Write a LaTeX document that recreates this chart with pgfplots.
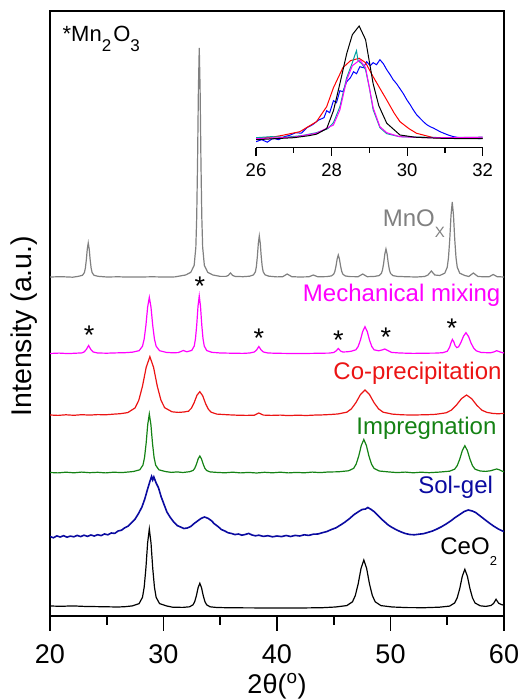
\documentclass[border=0pt]{standalone}
\usepackage{fontspec}
\setmainfont{Liberation Sans}
\usepackage{pgfplots}
\pgfplotsset{compat=1.18}
\definecolor{cgray}{RGB}{128,128,128}
\definecolor{cmag}{RGB}{255,0,255}
\definecolor{cred}{RGB}{235,20,20}
\definecolor{cgreen}{RGB}{20,130,20}
\definecolor{cblue}{RGB}{10,10,160}
\definecolor{iblue}{RGB}{0,0,255}
\definecolor{ired}{RGB}{255,0,0}
\definecolor{iteal}{RGB}{0,160,160}
\newcommand{\lsub}[3]{\raisebox{-#2}{\fontsize{#1}{#1}\selectfont #3}}
\begin{document}
\begin{tikzpicture}
\useasboundingbox (0,0) rectangle (523pt,700pt);
\begin{axis}[
  at={(50pt,84pt)}, anchor=south west,
  width=454pt, height=605pt, scale only axis,
  xmin=20, xmax=60, ymin=0, ymax=605,
  xtick={20,30,40,50,60}, minor xtick={25,35,45,55},
  ytick=\empty,
  xtick pos=bottom, tick align=outside,
  major tick length=15pt, minor tick length=9pt,
  every tick/.style={black, line width=1.6pt},
  axis line style={line width=1.8pt},
  /pgf/number format/assume math mode=true,
  tick label style={font=\fontsize{27}{30}\selectfont},
  xticklabel style={anchor=base, yshift=-32pt},
  xlabel={2θ(\textsuperscript{o})},
  ylabel={Intensity (a.u.)},
  xlabel style={font=\fontsize{27}{30}\selectfont, at={(axis description cs:0.5,-0.1273)}, anchor=base},
  ylabel style={font=\fontsize{28.5}{30}\selectfont, at={(axis description cs:-0.0403,0.479)}, anchor=base},
  every axis plot/.append style={line width=1.2pt},
]
% CeO2
\addplot[black] coordinates {(20,10) (21,9.7) (22,10.1) (23,9.6) (24,9.4) (25,9.2) (26,9.0) (26.6,9.3) (27.25,10.1) (27.85,12.4) (28.15,18.7) (28.3,29) (28.45,47.9) (28.6,73) (28.75,87) (28.9,73) (29.05,47.9) (29.2,29) (29.35,18.7) (29.65,12.4) (30.25,10.1) (30.8,8.8) (31.7,8.6) (32.3,9.2) (32.6,11.2) (32.75,14.4) (32.9,20.4) (33.05,28.3) (33.2,32.7) (33.35,28.3) (33.5,20.4) (33.65,14.4) (33.8,11.2) (34.1,9.2) (34.7,8.5) (36,8.2) (38,8.1) (40,7.9) (42,8) (44,8.3) (45.15,9) (46.15,10.4) (46.65,14.2) (46.9,20.5) (47.15,32) (47.4,47.4) (47.65,56) (47.9,47.4) (48.15,32) (48.4,20.5) (48.65,14.2) (49.15,10.4) (50.15,9) (51.5,8.4) (53,8.3) (54.3,8.8) (55.2,9.9) (55.65,13) (55.875,18.1) (56.1,27.4) (56.325,39.7) (56.55,46.7) (56.775,39.7) (57,27.4) (57.225,18.1) (57.45,13) (57.9,10.2) (58.4,9.6) (58.85,10.5) (59.075,12.5) (59.3,16.7) (59.525,12.8) (59.75,11.5) (60,10.8)};
% Sol-gel
\addplot[cblue, line width=1.6pt] coordinates {(20,79.5) (20.3,78.2) (20.6,80.1) (20.9,79) (21.2,80.3) (21.5,78.8) (21.8,79.9) (22.1,79.2) (22.4,80.6) (22.7,79.4) (23.0,80.8) (23.3,79.6) (23.6,81) (23.9,80) (24.2,81.3) (24.5,80.4) (24.8,82) (25.1,81.2) (25.4,83) (25.7,82.6) (26.0,85) (26.3,85.8) (26.6,88.3) (26.9,90) (27.2,93.5) (27.5,97) (27.8,102.5) (28.1,109) (28.35,117) (28.6,127) (28.8,134.5) (28.95,139.5) (29.05,136) (29.15,139) (29.35,133) (29.55,128.5) (29.8,119) (30.05,111.5) (30.3,104) (30.6,98.5) (30.9,94) (31.2,90.5) (31.5,89) (31.8,87.5) (32.1,88) (32.4,89.5) (32.7,92.5) (33.0,95) (33.3,97.5) (33.6,99) (33.9,97.8) (34.2,95.5) (34.5,92) (34.8,89.5) (35.1,86.5) (35.4,85) (35.7,83.2) (36.0,82.5) (36.3,81.4) (36.6,82) (36.9,80.8) (37.2,81.5) (37.5,82.6) (37.8,81) (38.1,80.2) (38.4,80.8) (38.8,79.6) (39.2,80.3) (39.6,79.2) (40.0,80) (40.4,79.4) (40.8,80.5) (41.2,79.5) (41.6,80.6) (42.0,80) (42.4,81.2) (42.8,80.6) (43.2,81.8) (43.6,82) (44.0,83.3) (44.4,84.5) (44.8,86.5) (45.2,88.2) (45.6,91) (46.0,94) (46.4,97.5) (46.8,101.5) (47.2,104.5) (47.5,106.5) (47.8,107) (48.0,108.5) (48.3,106.5) (48.6,104) (48.9,100.5) (49.2,97) (49.5,94) (49.8,91) (50.1,88.8) (50.5,86.3) (50.9,84.2) (51.3,82.5) (51.7,81.5) (52.1,81.2) (52.5,81.8) (52.9,82.3) (53.3,83.6) (53.7,85) (54.1,87) (54.5,89.3) (54.9,92) (55.3,95) (55.7,98.5) (56.1,101.5) (56.5,104.5) (56.85,106) (57.2,105) (57.5,103.5) (57.9,100) (58.3,96.5) (58.7,93) (59.1,89.8) (59.5,87) (60,84.3)};
% Impregnation
\addplot[cgreen] coordinates {(20,143.5) (20.7,143.1) (21.4,143.8) (22.1,143.2) (22.8,143.9) (23.5,143.3) (24.2,143.7) (24.9,143.1) (25.6,143.8) (26.3,143.4) (26.9,144) (27.35,144.5) (27.91,146.2) (28.19,150.9) (28.33,158.6) (28.47,172.7) (28.61,191.4) (28.75,202) (28.89,191.4) (29.03,172.7) (29.17,158.6) (29.31,150.9) (29.59,146.2) (30.15,144.5) (30.7,143.6) (31.2,144.1) (31.7,143.5) (32.3,144.3) (32.6,145.5) (32.75,147.6) (32.9,151.7) (33.05,157) (33.2,160) (33.35,157) (33.5,151.7) (33.65,147.6) (33.8,145.5) (34.1,144.1) (34.7,143.6) (35.4,143.2) (36.1,143.8) (36.8,143.1) (37.5,143.6) (38.2,143) (38.9,143.7) (39.6,143.2) (40.3,143.8) (41,143.1) (41.7,143.6) (42.4,143.2) (43.1,143.9) (43.8,143.4) (44.5,144) (45.4,144.2) (46.3,145.2) (46.75,147.6) (46.975,151.9) (47.2,159.9) (47.425,170.5) (47.65,176.5) (47.875,170.5) (48.1,159.9) (48.325,151.9) (48.55,147.6) (49,145) (49.9,144) (50.6,143.4) (51.3,143.9) (52,143.2) (52.7,143.8) (53.4,143.3) (54.3,143.9) (55.2,144.8) (55.65,146.8) (55.875,150.3) (56.1,156.8) (56.325,165.4) (56.55,170.3) (56.775,165.4) (57,156.8) (57.225,150.3) (57.45,146.8) (57.9,145) (58.4,144.6) (58.85,145.3) (59.1,146.2) (59.35,147) (59.6,146.2) (59.8,145) (60,144.2)};
% Co-precipitation
\addplot[cred] coordinates {(20,201) (20.7,200.6) (21.4,201.2) (22.1,200.7) (22.8,201.3) (23.5,200.9) (24.2,201.4) (24.9,201.2) (25.55,201.8) (26.2,202.3) (26.85,203.4) (27.5,208.1) (27.825,215.8) (28.15,229.9) (28.475,248.7) (28.8,259.3) (29.125,248.7) (29.45,229.9) (29.775,215.8) (30.1,208.3) (30.75,204.2) (31.3,203.6) (31.8,204) (32.2,204.8) (32.45,207.7) (32.7,213.3) (32.95,220.8) (33.2,224.3) (33.45,220.3) (33.7,212.6) (33.95,206.8) (34.2,203.8) (34.7,201.9) (35.7,201.2) (36.5,200.8) (37.3,200.6) (38.0,200.8) (38.4,203) (38.8,200.9) (39.5,200.6) (40.3,200.9) (41,200.4) (41.8,200.8) (42.6,200.5) (43.3,200.9) (44.0,201.1) (44.7,201.5) (45.35,202) (46.15,203.8) (46.55,207.1) (46.95,213.3) (47.35,221.4) (47.75,226) (48.15,221.4) (48.55,213.3) (48.95,207.1) (49.35,203.8) (50.15,201.9) (51,201.2) (51.75,201) (52.5,201.1) (53.3,201.3) (54,201.7) (54.9,203.2) (55.35,205.8) (55.8,210.8) (56.25,217.3) (56.7,221) (57.15,217.3) (57.6,210.8) (58.05,205.8) (58.5,203.6) (59,202.6) (59.5,202.2) (60,202.7)};
% Mechanical mixing
\addplot[cmag] coordinates {(20,262.5) (20.8,262.9) (21.6,262.4) (22.3,262.8) (22.8,263.1) (23.0,264) (23.2,266.5) (23.4,270.5) (23.6,266.5) (23.8,264) (24.2,263) (25,262.8) (25.8,263.1) (26.6,263.3) (27.25,263.8) (27.85,265.3) (28.15,269.8) (28.3,277.1) (28.45,290.6) (28.6,308.6) (28.75,318.7) (28.9,308.6) (29.05,290.6) (29.2,277.1) (29.35,269.8) (29.65,265.3) (30.25,263.6) (30.8,263.2) (31.3,263.4) (31.75,265.5) (32.05,264.2) (32.49,265.6) (32.71,270) (32.82,277.5) (32.93,291.3) (33.04,309.7) (33.15,320) (33.26,309.7) (33.37,291.3) (33.48,277.5) (33.59,270) (33.81,265.4) (34.25,263.7) (35,263) (36,262.8) (37,262.6) (37.6,263) (38,264) (38.2,266) (38.4,269.5) (38.6,266) (38.8,264) (39.2,263) (40,262.7) (41.5,262.5) (43,262.6) (44,262.8) (44.6,262.9) (45.0,263.5) (45.2,265) (45.4,267.5) (45.6,265) (45.8,264) (46.2,264.2) (46.55,264.8) (46.95,266.2) (47.15,269.5) (47.35,275.9) (47.55,284.5) (47.75,289.3) (47.95,284.5) (48.15,275.9) (48.35,269.5) (48.55,266.2) (48.95,265.2) (49.25,266) (49.5,267) (49.75,265.5) (50.1,263.6) (50.8,263) (52,262.6) (53,262.8) (54,262.9) (54.6,263.3) (55,264.7) (55.2,268.6) (55.33,273.2) (55.45,276.5) (55.57,274.4) (55.7,270.2) (55.85,268.4) (56,269.2) (56.2,273.4) (56.43,279.8) (56.65,283.3) (56.88,279.4) (57.1,272.8) (57.33,267.9) (57.55,265.2) (58,263.5) (58.8,263.2) (59.1,264) (59.35,265.3) (59.6,264.3) (59.8,263.5) (60,263)};
% MnOx
\addplot[cgray] coordinates {(20,339) (21,339.3) (22,338.8) (22.52,339.7) (22.86,340.7) (23.03,343.4) (23.115,347.8) (23.2,356) (23.285,366.9) (23.37,373) (23.455,366.9) (23.54,356) (23.625,347.8) (23.71,343.4) (23.88,340.7) (24.22,339.7) (25,339) (26,339.2) (27,338.9) (28,339) (29,339.2) (30,339) (31,339.1) (31.95,341) (32.4,343.6) (32.7,350.5) (32.85,368.8) (32.925,398.5) (33,453.5) (33.075,526.8) (33.15,568) (33.225,526.8) (33.3,453.5) (33.375,398.5) (33.45,368.8) (33.6,350.5) (33.9,343.6) (34.35,341) (35,339.6) (35.5,339.6) (35.7,340.5) (35.9,343) (36.1,340.5) (36.3,339.6) (37,339.3) (37.59,339.8) (37.93,341.1) (38.1,344.3) (38.185,349.7) (38.27,359.5) (38.355,372.6) (38.44,380) (38.525,372.6) (38.61,359.5) (38.695,349.7) (38.78,344.3) (38.95,341.1) (39.29,339.8) (40,339.1) (40.5,339.3) (40.9,342) (41.3,339.3) (42,339) (42.8,339.2) (43.2,341) (43.6,339.2) (44.4,339.4) (44.8,340.1) (45,341.9) (45.1,344.7) (45.2,350) (45.3,357) (45.4,361) (45.5,357) (45.6,350) (45.7,344.7) (45.8,341.9) (46,340.1) (46.4,339.4) (47.15,339.3) (47.55,342) (47.95,339.3) (48.6,339.6) (49,340.4) (49.2,342.6) (49.3,346.3) (49.4,353) (49.5,362) (49.6,367) (49.7,362) (49.8,353) (49.9,346.3) (50,342.6) (50.2,340.4) (50.6,339.6) (51.5,339.2) (52.3,339) (53,339.5) (53.3,341) (53.45,343) (53.6,345) (53.75,343) (53.9,341) (54.34,340.5) (54.78,342.8) (55,348.8) (55.11,358.5) (55.22,376.5) (55.33,400.5) (55.44,414) (55.55,400.5) (55.66,376.5) (55.77,358.5) (55.88,348.8) (56.1,342.8) (56.54,340.5) (56.9,339.5) (57.3,343) (57.7,339.5) (58.3,339.2) (58.7,339.3) (59.05,341.5) (59.4,339.3) (60,339)};
% labels
\begin{scope}[font=\fontsize{24}{28}\selectfont, inner sep=0pt]
\node[anchor=base east, cmag] at (axis cs:59.7,314.3) {Mechanical mixing};
\node[anchor=base east, cred] at (axis cs:59.8,236) {Co-precipitation};
\node[anchor=base east, cgreen] at (axis cs:59.35,181) {Impregnation};
\node[anchor=base east, cblue] at (axis cs:59.05,122.7) {Sol-gel};
\node[anchor=base east, black] at (axis cs:59.4,61) {CeO\lsub{13pt}{11pt}{2}};
\node[anchor=base east, cgray] at (axis cs:54.8,389) {MnO\lsub{15pt}{10.5pt}{X}};
\end{scope}
\begin{scope}[font=\fontsize{27}{28}\selectfont, inner sep=0pt]
\node[anchor=north] at (axis cs:23.44,290.5) {*};
\node[anchor=north] at (axis cs:33.2,338.8) {*};
\node[anchor=north] at (axis cs:38.4,287.2) {*};
\node[anchor=north] at (axis cs:45.4,285.5) {*};
\node[anchor=north] at (axis cs:49.6,287.8) {*};
\node[anchor=north] at (axis cs:55.4,297.2) {*};
\end{scope}
\node[anchor=base west, inner sep=0pt, font=\fontsize{22}{24}\selectfont] at (axis cs:21.1,574.3) {*Mn\lsub{17pt}{10pt}{2}\hspace{2pt}O\lsub{17pt}{10pt}{3}};
\end{axis}
% inset
\begin{axis}[
  at={(256pt,552.3pt)}, anchor=south west,
  width=226.7pt, height=130pt, scale only axis,
  xmin=26, xmax=32, ymin=0, ymax=130,
  axis x line*=bottom, hide y axis,
  xtick={26,28,30,32}, minor xtick={27,29,31},
  tick align=outside, major tick length=8pt, minor tick length=5pt,
  every tick/.style={black, line width=1.2pt},
  axis line style={line width=1.4pt},
  /pgf/number format/assume math mode=true,
  tick label style={font=\fontsize{18.5}{20}\selectfont},
  xticklabel style={anchor=base, yshift=-21pt},
  every axis plot/.append style={line width=1.0pt},
]
\addplot[iblue] coordinates {(26,6) (26.15,8) (26.3,5.5) (26.45,9.5) (26.6,8) (26.75,11) (26.9,12.5) (27.05,15) (27.2,14.5) (27.35,20) (27.5,23) (27.65,27.5) (27.8,30) (27.87,37) (27.95,35) (28.05,47) (28.13,45) (28.22,57) (28.3,56) (28.4,66) (28.5,70) (28.58,76) (28.66,74) (28.75,81) (28.84,80) (28.93,86) (29.02,82) (29.1,85) (29.19,83) (29.28,88) (29.37,84) (29.46,78) (29.55,73) (29.63,68) (29.72,64) (29.81,59) (29.9,54) (29.99,48) (30.08,43) (30.16,38) (30.25,33) (30.34,29.5) (30.43,26) (30.52,23) (30.61,21) (30.7,19.5) (30.8,17.5) (30.87,16) (31.0,14) (31.1,12.5) (31.23,11) (31.4,10) (31.58,9.4) (31.75,10) (31.9,9) (32,9.4)};
\addplot[ired] coordinates {(26,9) (26.5,11) (26.72,12.5) (27.16,16) (27.6,26) (27.87,41) (28.05,60) (28.3,80) (28.5,87) (28.73,89.4) (28.9,85) (29.1,71) (29.3,58) (29.46,47.7) (29.65,35) (29.81,26) (30.05,19) (30.25,14.4) (30.7,10) (31.2,9.5) (32,9.5)};
\addplot[iteal] coordinates {(26,10) (26.4,11) (26.8,10.5) (27.2,12) (27.6,15) (27.9,19) (28.05,25) (28.22,41) (28.4,70) (28.55,85) (28.62,93) (28.66,97) (28.7,87) (28.8,84) (28.9,78) (29.0,60) (29.1,38) (29.28,20) (29.46,14) (29.8,11) (30.4,10.5) (31,10) (32,10.5)};
\addplot[cmag] coordinates {(26,9) (26.5,9.8) (27,10.5) (27.6,14.4) (28.05,22.7) (28.22,37.7) (28.4,67.7) (28.55,82) (28.75,87.7) (28.9,80) (29.0,60) (29.1,40) (29.28,21) (29.46,15) (29.8,11) (30.5,10) (31.2,10) (32,10.5)};
\addplot[black] coordinates {(26,8) (26.5,9) (27,10) (27.4,12) (27.6,13.5) (27.87,19) (28.05,37) (28.22,64) (28.4,94) (28.55,113) (28.73,121.7) (28.9,108) (29.1,64) (29.25,42) (29.46,24.5) (29.81,12.7) (30.2,10.5) (30.8,9.5) (31.5,9) (32,9)};
\end{axis}
\end{tikzpicture}
\end{document}
